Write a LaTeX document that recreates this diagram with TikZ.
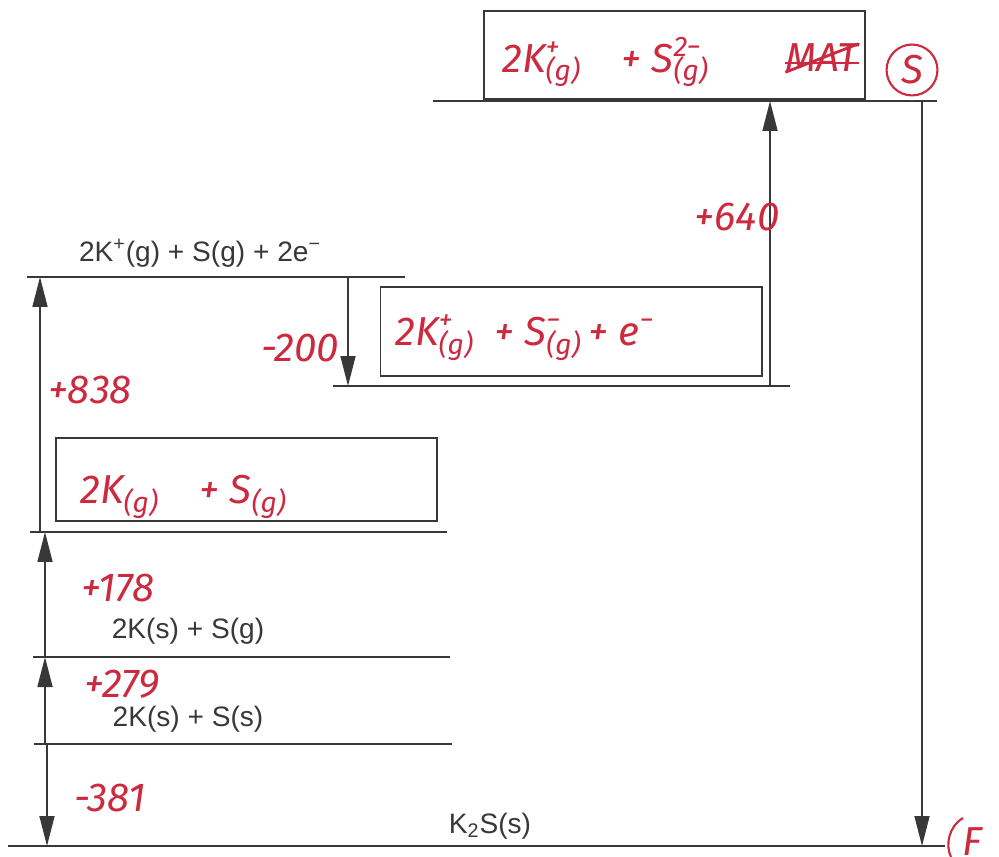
\documentclass[tikz,border=0pt]{standalone}
\usepackage{fontspec}
\setmainfont{Liberation Sans}
\newfontfamily\handfont{Fira Sans}
\usetikzlibrary{arrows.meta}
\definecolor{ink}{HTML}{383838}
\definecolor{pen}{HTML}{CC2A3F}

\begin{document}
\begin{tikzpicture}[
  x=0.02cm, y=-0.02cm,
  level/.style={draw=ink, line width=0.9pt},
  jump/.style={draw=ink, line width=0.9pt, -{Triangle[length=0.6cm, width=0.3cm]}},
  printed/.style={text=ink, font=\fontsize{16}{19}\selectfont, inner sep=0pt},
  hand/.style={text=pen, font=\handfont\itshape\fontsize{23}{27}\selectfont, inner sep=0pt},
  answer/.style={draw=ink, line width=0.9pt, minimum height=1.75cm, minimum width=7.63cm}
]
  \useasboundingbox (0,0) rectangle (999,857);

  % energy levels
  \coordinate (topL) at (433,101);  \coordinate (topR) at (937,101);
  \coordinate (ionL) at (27,277);   \coordinate (ionR) at (405,277);
  \coordinate (anL) at (333,386);   \coordinate (anR) at (790,386);
  \coordinate (gasL) at (30,532);   \coordinate (gasR) at (447,532);
  \coordinate (kgL) at (33,657);    \coordinate (kgR) at (450,657);
  \coordinate (ksL) at (34,744);    \coordinate (ksR) at (452,744);
  \coordinate (prodL) at (8,846);   \coordinate (prodR) at (945,846);
  \foreach \lv in {top,ion,an,gas,kg,ks,prod}
    \draw[level] (\lv L) -- (\lv R);

  % printed labels
  \node[printed] (ionlab) at (200,253) {2K\textsuperscript{+}(g) + S(g) + 2e\textsuperscript{−}};
  \node[printed] (kglab) at (188,631) {2K(s) + S(g)};
  \node[printed] (kslab) at (188,719) {2K(s) + S(s)};
  \node[printed] (prodlab) at (490,826) {K\textsubscript{2}S(s)};

  % handwritten boxes
  \node[answer] (topbox) at (674.5,55) {};
  \node[answer, minimum height=1.78cm] (anbox) at (571,331.5) {};
  \node[answer, minimum height=1.66cm] (gasbox) at (246.5,479.5) {};
  \node[hand, anchor=west] (toptext) at (502,62)
    {2K\rlap{\textsuperscript{+}}\textsubscript{(g)}\quad + S\rlap{\textsuperscript{2−}}\textsubscript{(g)}};
  \node[hand] (scrib) at (822,58) {MAT};
  \draw[pen, line width=1.6pt] (scrib.south west) -- (scrib.north east);
  \draw[pen, line width=1.6pt] ([yshift=-0.1cm]scrib.west) -- ([yshift=-0.1cm]scrib.east);
  \node[hand, anchor=west] (antext) at (395,338)
    {2K\rlap{\textsuperscript{+}}\textsubscript{(g)}\enspace + S\rlap{\textsuperscript{−}}\textsubscript{(g)}\,+ e\textsuperscript{−}};
  \node[hand, anchor=west] (gastext) at (80,497)
    {2K\textsubscript{(g)}\quad + S\textsubscript{(g)}};

  % steps
  \coordinate (s838a) at (40,532);  \coordinate (s838b) at (40,277);
  \coordinate (s178a) at (45,657);  \coordinate (s178b) at (45,532);
  \coordinate (s279a) at (45,744);  \coordinate (s279b) at (45,657);
  \coordinate (s381a) at (47,744);  \coordinate (s381b) at (47,846);
  \coordinate (s200a) at (348,277); \coordinate (s200b) at (348,386);
  \coordinate (s640a) at (770,386); \coordinate (s640b) at (770,101);
  \coordinate (sfa) at (922,101);   \coordinate (sfb) at (922,846);
  \foreach \st in {838,178,279,381,200,640,f}
    \draw[jump] (s\st a) -- (s\st b);

  % values
  \node[hand] (v838) at (90,390) {+838};
  \node[hand] (v178) at (118,588) {+178};
  \node[hand] (v279) at (122,684) {+279};
  \node[hand] (v381) at (110,798) {-381};
  \node[hand] (v200) at (300,348) {-200};
  \node[hand] (v640) at (737,217) {+640};

  % marks
  \node[hand, draw=pen, circle, line width=1.2pt, inner sep=3pt] (markS) at (912,70) {S};
  \node[hand] (markF) at (972,842) {F};
  \draw[pen, line width=1.2pt] (963,818) .. controls (949,826) and (945,845) .. (951,857);
\end{tikzpicture}
\end{document}
